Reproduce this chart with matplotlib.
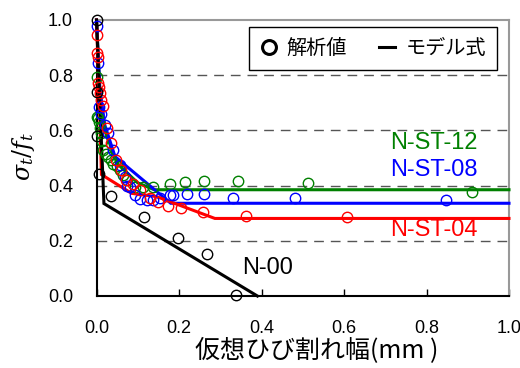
import matplotlib
matplotlib.use("Agg")
import matplotlib.pyplot as plt
from matplotlib.lines import Line2D

plt.rcParams['font.family'] = ['Liberation Sans', 'Noto Sans CJK JP', 'DejaVu Sans']
plt.rcParams['mathtext.fontset'] = 'dejavuserif'

# ---- data ----
# analysis points (x: crack width mm, y: sigma_t/f_t)
n00_x = [0.000, 0.000, 0.002, 0.005, 0.034, 0.115, 0.198, 0.269, 0.338]
n00_y = [1.000, 0.740, 0.580, 0.443, 0.364, 0.287, 0.209, 0.152, 0.004]

st04_x = [0.000, 0.000, 0.004, 0.004, 0.006, 0.008, 0.012, 0.016, 0.026, 0.036, 0.048,
          0.060, 0.072, 0.089, 0.105, 0.130, 0.150, 0.174, 0.205, 0.259, 0.362, 0.607]
st04_y = [0.946, 0.879, 0.867, 0.770, 0.758, 0.735, 0.710, 0.690, 0.610, 0.553, 0.493,
          0.457, 0.420, 0.405, 0.384, 0.355, 0.342, 0.326, 0.318, 0.305, 0.290, 0.287]

st08_x = [0.002, 0.004, 0.006, 0.012, 0.020, 0.028, 0.040, 0.056, 0.068, 0.073, 0.080,
          0.093, 0.105, 0.122, 0.138, 0.154, 0.178, 0.186, 0.219, 0.261, 0.332, 0.481, 0.847]
st08_y = [0.978, 0.843, 0.686, 0.660, 0.620, 0.590, 0.530, 0.475, 0.432, 0.400, 0.396,
          0.366, 0.350, 0.348, 0.348, 0.355, 0.366, 0.366, 0.370, 0.368, 0.356, 0.354, 0.348]

st12_x = [0.000, 0.000, 0.003, 0.005, 0.008, 0.010, 0.013, 0.016, 0.022, 0.028, 0.035,
          0.041, 0.049, 0.056, 0.065, 0.075, 0.093, 0.113, 0.138, 0.178, 0.215, 0.261,
          0.342, 0.513, 0.911]
st12_y = [0.795, 0.650, 0.645, 0.630, 0.610, 0.590, 0.560, 0.530, 0.515, 0.505, 0.492,
          0.480, 0.470, 0.455, 0.440, 0.420, 0.394, 0.395, 0.396, 0.406, 0.412, 0.417,
          0.417, 0.408, 0.378]

# model curves
m00_x = [0.0, 0.018, 0.39]
m00_y = [1.0, 0.335, 0.0]
m04_x = [0.0, 0.006, 0.012, 0.085, 0.146, 0.287, 1.0]
m04_y = [1.0, 0.75, 0.44, 0.372, 0.360, 0.281, 0.281]
m08_x = [0.0, 0.008, 0.020, 0.045, 0.180, 1.0]
m08_y = [1.0, 0.75, 0.62, 0.505, 0.336, 0.336]
m12_x = [0.0, 0.008, 0.020, 0.050, 0.100, 0.140, 1.0]
m12_y = [1.0, 0.75, 0.60, 0.480, 0.410, 0.385, 0.385]

labels = ['N-00', 'N-ST-04', 'N-ST-08', 'N-ST-12']
colors = ['black', '#ff0000', '#0000ff', '#008000']

xticks = [0.0, 0.2, 0.4, 0.6, 0.8, 1.0]
yticks = [0.0, 0.2, 0.4, 0.6, 0.8, 1.0]

# ---- figure ----
fig = plt.figure(figsize=(5.2, 3.68), dpi=100)
ax = fig.add_axes([96.5/520, 72/368, 412.5/520, 276/368])

ax.set_xlim(0, 1.0)
ax.set_ylim(0, 1.0)

for yv in [0.2, 0.4, 0.6, 0.8]:
    ax.axhline(yv, color='#555555', lw=1.0, ls=(0, (7, 5)), zorder=1)

pts = [(n00_x, n00_y), (st04_x, st04_y), (st08_x, st08_y), (st12_x, st12_y)]
mods = [(m00_x, m00_y), (m04_x, m04_y), (m08_x, m08_y), (m12_x, m12_y)]
order = [3, 2, 1, 0]
for i in order:
    ax.plot(mods[i][0], mods[i][1], color=colors[i], lw=2.2, zorder=3,
            solid_joinstyle='miter', clip_on=False)
for i in order:
    ax.plot(pts[i][0], pts[i][1], ls='none', marker='o', ms=7.5, mfc='none',
            mec=colors[i], mew=1.0, zorder=4, clip_on=False)

lab_pos = {'N-ST-12': (0.925, 0.554, 'right'),
           'N-ST-08': (0.925, 0.457, 'right'),
           'N-ST-04': (0.925, 0.239, 'right'),
           'N-00': (0.352, 0.101, 'left')}
for name, c in zip(labels, colors):
    px, py, ha = lab_pos[name]
    ax.text(px, py, name, color=c, fontsize=17, ha=ha, va='center',
            transform=ax.transAxes)

ax.set_xticks(xticks)
ax.set_yticks(yticks)
ax.set_xticklabels([f'{v:.1f}' for v in xticks])
ax.set_yticklabels([f'{v:.1f}' for v in yticks])
ax.tick_params(direction='in', length=5, width=1, labelsize=13)
ax.tick_params(axis='x', pad=17)
ax.tick_params(axis='y', length=0, pad=17)

for s in ['left', 'bottom']:
    ax.spines[s].set_color('black')
    ax.spines[s].set_linewidth(1.5)
for s in ['top', 'right']:
    ax.spines[s].set_color('#999999')
    ax.spines[s].set_linewidth(1.5)

ax.set_xlabel('仮想ひび割れ幅(mm )', fontsize=18, family=['Noto Sans CJK JP', 'DejaVu Sans'])
ax.xaxis.set_label_coords(0.5345, -0.15)
ax.set_ylabel(r'$\sigma_t/f_t$', fontsize=17)
ax.yaxis.set_label_coords(-0.145, 0.504)

handles = [Line2D([], [], ls='none', marker='o', ms=10, mfc='none', mec='black', mew=2.2),
           Line2D([], [], color='black', lw=2.2)]
leg = ax.legend(handles, ['解析値', 'モデル式'], ncol=2, loc='upper right',
                bbox_to_anchor=(0.971, 0.975), borderaxespad=0, fancybox=False,
                frameon=True, edgecolor='black', framealpha=1,
                prop={'family': ['Noto Sans CJK JP', 'DejaVu Sans'], 'size': 14.5},
                handlelength=0.8, handletextpad=0.5, columnspacing=1.6,
                borderpad=0.55)
leg.get_frame().set_linewidth(1.0)

fig.savefig('out.png', dpi=100)
